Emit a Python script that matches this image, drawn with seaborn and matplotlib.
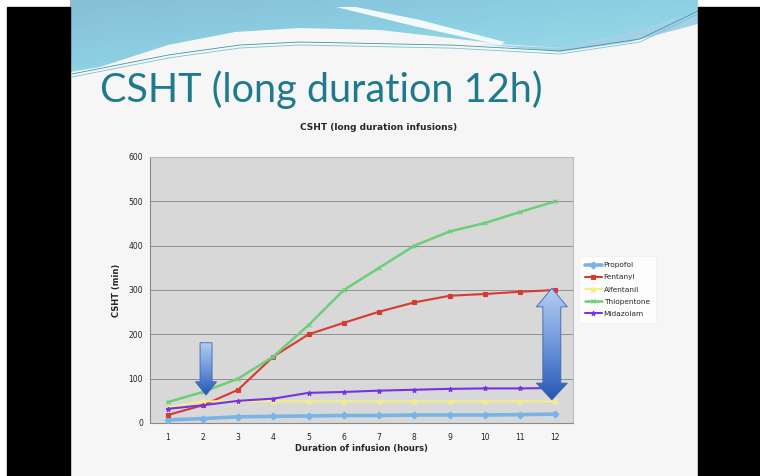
import numpy as np
import pandas as pd
import matplotlib
matplotlib.use("Agg")
import matplotlib.pyplot as plt
import seaborn as sns
from matplotlib.patches import Polygon, Rectangle
from matplotlib.colors import LinearSegmentedColormap

sns.set_style("white")
plt.rcParams["font.family"] = ["DejaVu Sans"]

# data
hours = [1, 2, 3, 4, 5, 6, 7, 8, 9, 10, 11, 12]
drugs = ["Propofol", "Fentanyl", "Alfentanil", "Thiopentone", "Midazolam"]
propofol = [7, 10, 14, 15, 16, 17, 17, 18, 18, 18, 19, 20]
fentanyl = [18, 40, 75, 150, 200, 226, 251, 272, 287, 291, 296, 300]
alfentanil = [35, 49, 49, 49, 49, 49, 49, 49, 49, 49, 49, 49]
thiopentone = [47, 70, 100, 150, 221, 300, 350, 400, 432, 451, 476, 500]
midazolam = [32, 40, 50, 55, 68, 70, 73, 75, 77, 78, 78, 79]
yticks = [0, 100, 200, 300, 400, 500, 600]

values = [propofol, fentanyl, alfentanil, thiopentone, midazolam]
df = pd.DataFrame({
    "hour": hours * len(drugs),
    "csht": sum(values, []),
    "drug": sum([[d] * len(hours) for d in drugs], []),
})

colors = {"Propofol": "#78B4E6", "Fentanyl": "#D63A30", "Alfentanil": "#F3EE8A",
          "Thiopentone": "#6CCF78", "Midazolam": "#7733E3"}
markers = {"Propofol": "D", "Fentanyl": "s", "Alfentanil": "^",
           "Thiopentone": "x", "Midazolam": "*"}
widths = {"Propofol": 2.6, "Fentanyl": 1.5, "Alfentanil": 1.5,
          "Thiopentone": 1.8, "Midazolam": 1.5}

W, H = 760, 476
fig = plt.figure(figsize=(7.6, 4.76), dpi=100)
fig.patch.set_facecolor("white")

# slide background, black side bars, top wave
bg = fig.add_axes([0, 0, 1, 1])
bg.set_xlim(0, W)
bg.set_ylim(H, 0)
bg.axis("off")
bg.add_patch(Rectangle((70, 0), 628, H, color="#F6F6F6", zorder=0))
bg.add_patch(Rectangle((7, 7), 63, H, color="black", zorder=5))
bg.add_patch(Rectangle((698, 7), 62, H, color="black", zorder=5))

wx = [70, 100, 168, 235, 300, 380, 450, 500, 560, 620, 698]
wy = [72, 67, 45, 32, 28, 30, 38, 44, 48, 36, 12]
xs = np.linspace(70, 698, 300)
ys = np.interp(xs, wx, wy)
wave = Polygon(np.vstack([np.column_stack([xs, ys]), [[698, 0], [70, 0]]]),
               closed=True, facecolor="none", edgecolor="none")
bg.add_patch(wave)
gx, gy = np.meshgrid(np.linspace(0, 1, 200), np.linspace(0, 1, 60))
grad = 0.55 * gy + 0.45 * gx
wave_cmap = LinearSegmentedColormap.from_list("w", ["#86BFD6", "#8ED2E4", "#A6DDEA"])
im = bg.imshow(grad, extent=(70, 698, 80, 0), cmap=wave_cmap, aspect="auto", zorder=1)
im.set_clip_path(wave)
# thin white streak and darker band on the right
bg.add_patch(Polygon([[336, 7], [356, 7], [420, 20], [505, 42], [500, 45], [418, 27]],
                     closed=True, facecolor="white", alpha=0.9, edgecolor="none", zorder=2))
bg.add_patch(Polygon([[480, 44], [560, 48], [620, 36], [698, 12], [698, 24], [630, 42], [560, 52]],
                     closed=True, facecolor="#6DB6DE", alpha=0.6, edgecolor="none", zorder=2))
for off, c in [(1, "#3E98A8"), (4, "#7CC3CF")]:
    lx = np.linspace(72, 698, 200)
    ly = np.interp(lx, [72, 168, 240, 300, 450, 560, 640, 698],
                   [73, 54, 44, 41, 44, 50, 38, 10]) + off
    bg.plot(lx, ly, color=c, lw=0.6, zorder=3)

bg.text(100, 90, "CSHT (long duration 12h)", fontsize=28.5, color="#1F7A8E",
        family="Lato", va="center", ha="left", zorder=4)

# chart
ax = fig.add_axes([150 / W, 1 - 423 / H, 423 / W, 266 / H])
ax.set_facecolor("#D8D8D8")
for d, vals in zip(drugs, values):
    sub = df[df.drug == d]
    sns.lineplot(data=sub, x="hour", y="csht", color=colors[d], marker=markers[d],
                 markersize=3.5, markeredgewidth=0.8, markeredgecolor=colors[d],
                 lw=widths[d], label=d, ax=ax, zorder=3)

ax.set_xlim(0.5, 12.5)
ax.set_ylim(0, 600)
ax.set_yticks(yticks)
ax.set_xticks(hours)
ax.set_xticks(np.arange(0.5, 13, 1), minor=True)
ax.tick_params(axis="x", which="major", length=0, labelsize=5.5, pad=7, colors="#222222")
ax.tick_params(axis="x", which="minor", length=3, width=0.7, color="#888888", direction="out")
ax.tick_params(axis="y", length=3, width=0.7, color="#888888", labelsize=5.5, pad=2,
               labelcolor="#222222")
ax.yaxis.grid(True, color="#8E8E8E", lw=0.7)
ax.set_axisbelow(True)
for s in ["left", "bottom"]:
    ax.spines[s].set_color("#8A8A8A")
    ax.spines[s].set_linewidth(0.8)
for s in ["top", "right"]:
    ax.spines[s].set_color("#BDBDBD")
    ax.spines[s].set_linewidth(0.8)
ax.set_xlabel("Duration of infusion (hours)", fontsize=6, fontweight="bold", labelpad=2)
ax.set_ylabel("CSHT (min)", fontsize=6, fontweight="bold", labelpad=5)

leg = ax.legend(loc="upper left", bbox_to_anchor=(575 / W, 1 - 252 / H),
                bbox_transform=fig.transFigure, fontsize=5.3, frameon=True,
                fancybox=False, handlelength=2.2, labelspacing=0.8,
                handletextpad=0.3, borderpad=0.9)
leg.get_frame().set_facecolor("white")
leg.get_frame().set_edgecolor("#EEEEEE")
leg.get_frame().set_linewidth(0.6)

fig.text(379 / W, 1 - 128 / H, "CSHT (long duration infusions)", fontsize=6.5,
         fontweight="bold", ha="center", va="center")

# blue annotation arrows
arrow_cmap = LinearSegmentedColormap.from_list("a", ["#B4CDF2", "#6E98DC", "#2656B4"])


def block_arrow(cx, top, bottom, shaft, head, head_len, double=False):
    if double:
        pts = [[cx, top], [cx + head, top - head_len], [cx + shaft, top - head_len],
               [cx + shaft, bottom + 38], [cx + head, bottom + 38], [cx, bottom],
               [cx - head, bottom + 38], [cx - shaft, bottom + 38],
               [cx - shaft, top - head_len], [cx - head, top - head_len]]
    else:
        pts = [[cx - shaft, top], [cx + shaft, top], [cx + shaft, bottom + head_len],
               [cx + head, bottom + head_len], [cx, bottom], [cx - head, bottom + head_len],
               [cx - shaft, bottom + head_len]]
    poly = Polygon(pts, closed=True, facecolor="none", edgecolor="#3C66B0", lw=0.6, zorder=6)
    ax.add_patch(poly)
    g = np.linspace(0, 1, 100).reshape(-1, 1)
    img = ax.imshow(g, extent=(cx - head, cx + head, bottom, top), cmap=arrow_cmap,
                    aspect="auto", zorder=5, origin="upper")
    img.set_clip_path(poly)


block_arrow(2.09, 181, 63, 0.17, 0.3, 30)
block_arrow(11.9, 304, 52, 0.255, 0.44, 42, double=True)
ax.set_xlim(0.5, 12.5)
ax.set_ylim(0, 600)

plt.savefig("out.png", dpi=100)
